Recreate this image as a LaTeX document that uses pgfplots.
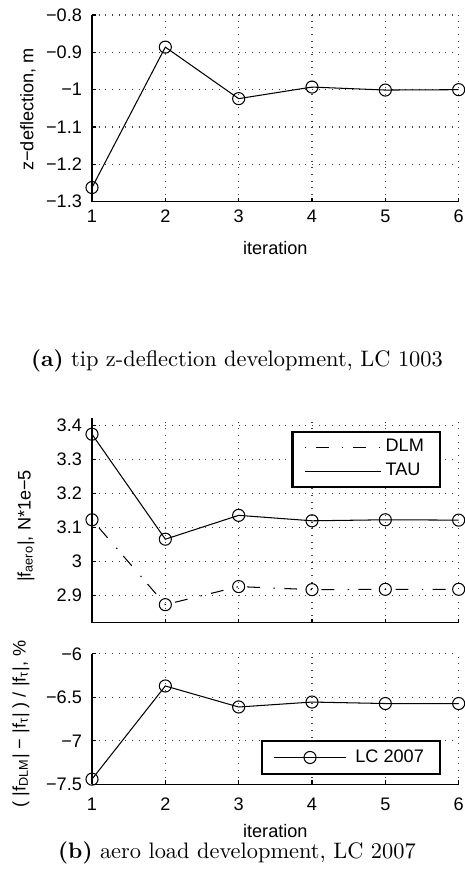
\documentclass[border=0pt]{standalone}
\usepackage{fontspec}
\usepackage{pgfplots}
\pgfplotsset{compat=1.18}
\newfontfamily\arial{Liberation Sans}
\newcommand\plotfont{\fontsize{8.7}{10}\selectfont\arial}

\pgfplotsset{
  common/.style={
    scale only axis, width=176pt,
    xmin=1, xmax=6, xtick={1,2,3,4,5,6},
    enlargelimits=false, clip=false,
    axis x line*=bottom, axis y line*=left,
    axis line style={-, line width=0.6pt},
    tick align=inside, major tick length=2pt,
    tick style={line width=0.5pt, black},
    grid=major,
    major grid style={black!75, line width=0.5pt, dash pattern=on 0.5pt off 2.7pt},
    tick label style={font=\plotfont},
    label style={font=\plotfont},
    yticklabel style={xshift=-1.3pt},
    legend cell align=left,
    legend style={font=\plotfont, draw=black, line width=1pt, fill=white,
      inner xsep=5.7pt, nodes={inner sep=2pt, text depth=0.15em}},
  },
  ser/.style={black, line width=0.5pt, mark=o, mark size=2.9pt, mark options={solid}},
  dashdot/.style={dash pattern=on 0.7pt off 4.5pt on 6.2pt off 6.4pt},
}

\begin{document}
\begin{tikzpicture}
\useasboundingbox (0,0) rectangle (222.72pt,-419.52pt);

% (a) tip deflection
\begin{axis}[common, at={(44.16pt,-96.82pt)}, anchor=south west,
    height=89.62pt, ymin=-1.3, ymax=-0.8,
    ytick={-1.3,-1.2,-1.1,-1,-0.9,-0.8},
    yticklabels={−1.3,−1.2,−1.1,−1,−0.9,−0.8},
    xticklabels={1,2,3,4,5,6},
    xticklabel style={yshift=-0.3pt},
    xlabel={iteration},
    xlabel style={at={(axis description cs:0.5,-0.25)}, anchor=center},
    ylabel={z−deflection, m},
    ylabel style={at={(axis description cs:-0.1745,0.494)}, anchor=center}]
  \addplot[ser] coordinates {(1,-1.262) (2,-0.886) (3,-1.024) (4,-0.993) (5,-1.001) (6,-1.000)};
\end{axis}

% (b) aero load, absolute
\begin{axis}[common, at={(44.16pt,-298.9pt)}, anchor=south west,
    height=98.16pt, ymin=2.82, ymax=3.42,
    ytick={2.9,3,3.1,3.2,3.3,3.4},
    yticklabels={2.9,3,3.1,3.2,3.3,3.4},
    xticklabels={},
    ylabel={|f\textsubscript{aero}|, N*1e−5},
    ylabel style={at={(axis description cs:-0.18,0.473)}, anchor=center},
    legend style={at={(axis description cs:0.9517,0.9389)}, anchor=north east, inner ysep=1.7pt},
    legend image code/.code={\draw[#1] (0pt,0pt) -- (36.5pt,0pt);}]
  \addplot[ser, dashdot] coordinates {(1,3.122) (2,2.873) (3,2.926) (4,2.917) (5,2.918) (6,2.918)};
  \addlegendentry{DLM}
  \addplot[ser] coordinates {(1,3.373) (2,3.065) (3,3.135) (4,3.119) (5,3.122) (6,3.121)};
  \addlegendentry{TAU}
\end{axis}

% (b) aero load, relative difference
\begin{axis}[common, at={(44.16pt,-376.5pt)}, anchor=south west,
    height=62.6pt, ymin=-7.5, ymax=-6,
    ytick={-7.5,-7,-6.5,-6},
    yticklabels={−7.5,−7,−6.5,−6},
    xticklabels={1,2,3,4,5,6},
    xticklabel style={yshift=-3pt},
    xlabel={iteration},
    xlabel style={at={(axis description cs:0.5,-0.356)}, anchor=center},
    ylabel={( |f\textsubscript{DLM}| − |f\textsubscript{τ}| ) / |f\textsubscript{τ}|, \%},
    ylabel style={at={(axis description cs:-0.1936,0.4636)}, anchor=center},
    legend style={at={(axis description cs:0.9517,0.341)}, anchor=north east,
      inner ysep=2.15pt, column sep=2.2pt},
    legend image code/.code={\draw[mark repeat=2,mark phase=2,#1] plot coordinates {(0pt,0pt) (17.3pt,0pt) (34.6pt,0pt)};}]
  \addplot[ser] coordinates {(1,-7.44) (2,-6.368) (3,-6.61) (4,-6.553) (5,-6.57) (6,-6.57)};
  \addlegendentry{LC 2007}
\end{axis}

\node[anchor=base, font=\fontsize{10.75}{13}\selectfont] at (113.76pt,-176.0pt)
  {\textbf{(a)} tip z-deflection development, LC 1003};
\node[anchor=base, font=\fontsize{10.75}{13}\selectfont] at (113.76pt,-412.3pt)
  {\textbf{(b)} aero load development, LC 2007};
\end{tikzpicture}
\end{document}
